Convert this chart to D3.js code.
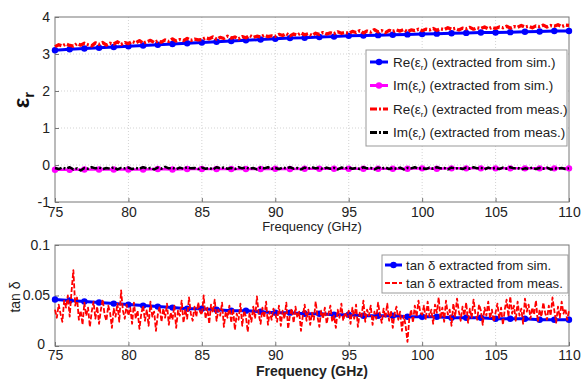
<!DOCTYPE html>
<html><head><meta charset="utf-8">
<script src="https://cdn.jsdelivr.net/npm/d3@7"></script>
<style>body{margin:0;background:#fff}svg{display:block}text{font-family:"Liberation Sans",Arial,sans-serif}</style>
</head><body><svg id="c" width="584" height="379"></svg>
<script>
// ---- data ----
const xTicks = [75,80,85,90,95,100,105,110];
const epsTicks = [-1,0,1,2,3,4];
const tanTicks = [0,0.05,0.1];
const tanTickLabels = ["0","0.05","0.1"];
// simulated, 1 GHz step 75..110
const reEpsSim = [3.10,3.13,3.15,3.17,3.19,3.21,3.23,3.25,3.27,3.29,3.31,3.33,3.35,3.37,3.39,3.41,3.43,3.44,3.46,3.47,3.49,3.50,3.51,3.52,3.53,3.54,3.55,3.56,3.57,3.58,3.58,3.59,3.60,3.61,3.62,3.62];
const imEpsSim = [-0.13,-0.13,-0.12,-0.12,-0.12,-0.12,-0.12,-0.11,-0.12,-0.11,-0.11,-0.11,-0.11,-0.11,-0.11,-0.10,-0.11,-0.10,-0.10,-0.10,-0.10,-0.10,-0.10,-0.10,-0.10,-0.09,-0.10,-0.09,-0.09,-0.09,-0.09,-0.09,-0.09,-0.09,-0.09,-0.09];
// measured, 0.25 GHz step 75..110
const reEpsMeas = [
3.20,3.25,3.22,3.27,3.23,3.21,3.28,3.24,3.29,3.25,3.22,3.30,3.26,3.31,3.24,3.29,3.27,3.33,3.26,3.31,
3.28,3.34,3.30,3.36,3.29,3.33,3.37,3.31,3.35,3.32,3.38,3.34,3.41,3.35,3.39,3.36,3.42,3.37,3.40,3.38,
3.39,3.44,3.41,3.46,3.40,3.45,3.42,3.48,3.43,3.46,3.41,3.47,3.44,3.50,3.45,3.48,3.46,3.51,3.47,3.49,
3.48,3.53,3.50,3.55,3.49,3.54,3.51,3.57,3.52,3.55,3.50,3.56,3.53,3.58,3.54,3.57,3.55,3.60,3.56,3.58,
3.56,3.61,3.58,3.63,3.57,3.62,3.59,3.66,3.60,3.63,3.58,3.64,3.61,3.65,3.62,3.66,3.60,3.65,3.63,3.67,
3.63,3.67,3.65,3.69,3.64,3.68,3.66,3.71,3.67,3.69,3.65,3.70,3.68,3.72,3.67,3.71,3.69,3.73,3.68,3.72,
3.69,3.73,3.71,3.75,3.70,3.74,3.72,3.77,3.73,3.75,3.71,3.76,3.74,3.78,3.73,3.77,3.75,3.79,3.74,3.78,3.77];
const imEpsMeas = [
-0.08,-0.11,-0.07,-0.10,-0.06,-0.12,-0.09,-0.15,-0.08,-0.10,-0.06,-0.09,-0.07,-0.11,-0.08,-0.10,-0.06,-0.12,-0.08,-0.09,
-0.07,-0.11,-0.08,-0.10,-0.06,-0.09,-0.08,-0.12,-0.07,-0.10,-0.05,-0.09,-0.08,-0.11,-0.07,-0.10,-0.06,-0.09,-0.08,-0.11,
-0.07,-0.10,-0.08,-0.12,-0.06,-0.09,-0.07,-0.10,-0.08,-0.11,-0.06,-0.09,-0.07,-0.10,-0.08,-0.12,-0.07,-0.09,-0.06,-0.10,
-0.08,-0.11,-0.07,-0.09,-0.06,-0.10,-0.08,-0.12,-0.07,-0.10,-0.06,-0.09,-0.08,-0.11,-0.07,-0.10,-0.08,-0.12,-0.07,-0.09,
-0.07,-0.10,-0.08,-0.11,-0.06,-0.09,-0.08,-0.12,-0.07,-0.10,-0.06,-0.11,-0.08,-0.10,-0.07,-0.12,-0.08,-0.09,-0.06,-0.10,
-0.08,-0.11,-0.07,-0.10,-0.06,-0.09,-0.08,-0.12,-0.07,-0.10,-0.08,-0.11,-0.07,-0.10,-0.06,-0.09,-0.08,-0.12,-0.07,-0.10,
-0.08,-0.11,-0.07,-0.10,-0.06,-0.09,-0.08,-0.12,-0.09,-0.10,-0.07,-0.11,-0.08,-0.10,-0.07,-0.12,-0.09,-0.10,-0.08,-0.11,-0.09];
// tan delta sim, 1 GHz step
const tanSim = [0.046,0.045,0.044,0.043,0.042,0.041,0.040,0.039,0.038,0.037,0.037,0.036,0.035,0.035,0.034,0.033,0.033,0.032,0.032,0.031,0.031,0.030,0.030,0.030,0.029,0.029,0.029,0.028,0.028,0.028,0.027,0.027,0.027,0.026,0.026,0.026];
// tan delta meas, 0.125 GHz step
const tanMeas = [
0.036,0.028,0.041,0.032,0.024,0.045,0.038,0.050,0.029,0.054,0.075,0.040,0.048,0.026,0.035,0.021,0.043,0.030,0.038,0.019,
0.034,0.044,0.027,0.039,0.022,0.036,0.046,0.031,0.025,0.040,0.033,0.018,0.037,0.029,0.042,0.024,0.055,0.035,0.027,0.041,
0.030,0.038,0.022,0.043,0.027,0.035,0.017,0.032,0.040,0.025,0.036,0.020,0.044,0.029,0.034,0.015,0.031,0.039,0.024,0.037,
0.028,0.042,0.021,0.033,0.026,0.040,0.018,0.035,0.030,0.045,0.023,0.036,0.027,0.048,0.032,0.025,0.039,0.029,0.043,0.034,
0.031,0.050,0.027,0.038,0.022,0.041,0.033,0.046,0.025,0.036,0.030,0.043,0.019,0.034,0.028,0.040,0.023,0.037,0.016,0.032,
0.026,0.042,0.020,0.035,0.029,0.014,0.033,0.024,0.039,0.027,0.049,0.031,0.022,0.038,0.028,0.044,0.021,0.034,0.026,0.037,
0.032,0.024,0.040,0.020,0.035,0.027,0.043,0.017,0.031,0.037,0.023,0.039,0.028,0.034,0.015,0.030,0.041,0.025,0.036,0.021,
0.033,0.026,0.044,0.029,0.019,0.035,0.027,0.038,0.022,0.032,0.040,0.024,0.030,0.018,0.036,0.028,0.042,0.025,0.033,0.029,
0.035,0.022,0.038,0.027,0.041,0.019,0.033,0.029,0.045,0.024,0.036,0.030,0.040,0.021,0.034,0.027,0.043,0.031,0.023,0.037,
0.028,0.042,0.025,0.035,0.018,0.032,0.039,0.026,0.034,0.015,0.030,0.020,0.004,0.027,0.036,0.023,0.040,0.029,0.045,0.033,
0.031,0.040,0.026,0.044,0.029,0.036,0.022,0.041,0.033,0.048,0.027,0.038,0.024,0.045,0.031,0.036,0.020,0.042,0.029,0.047,
0.034,0.025,0.039,0.030,0.043,0.023,0.037,0.028,0.046,0.032,0.026,0.041,0.035,0.021,0.038,0.030,0.044,0.027,0.036,0.024,
0.033,0.042,0.027,0.038,0.021,0.036,0.046,0.029,0.049,0.032,0.040,0.025,0.044,0.030,0.037,0.022,0.047,0.034,0.041,0.027,
0.038,0.031,0.045,0.024,0.036,0.029,0.043,0.033,0.026,0.040,0.030,0.048,0.035,0.023,0.039,0.028,0.044,0.032,0.037,0.026,0.035];
const legendTop = ["Re(ε|r|) (extracted from sim.)","Im(ε|r|) (extracted from sim.)","Re(ε|r|) (extracted from meas.)","Im(ε|r|) (extracted from meas.)"];
const legendBottom = ["tan δ extracted from sim.","tan δ extracted from meas."];

// ---- drawing ----
const svg = d3.select("#c");
const X0=55, X1=569;
const x = d3.scaleLinear().domain([75,110]).range([X0,X1]);
const yE = d3.scaleLinear().domain([-1,4]).range([202,17]);
const yT = d3.scaleLinear().domain([0,0.1]).range([346,245]);
const fx = (arr) => arr.map((v,i)=>[75 + i*35/(arr.length-1), v]);

function frame(y, ticks, labels, tickFont, xPad){
  const g = svg.append("g");
  const [b,t] = y.range();
  xTicks.slice(1,-1).forEach(v=>g.append("line").attr("x1",x(v)).attr("x2",x(v)).attr("y1",t).attr("y2",b)
    .attr("stroke","#c8c8c8").attr("stroke-width",0.8).attr("stroke-dasharray","1,2"));
  ticks.slice(1,-1).forEach(v=>g.append("line").attr("x1",X0).attr("x2",X1).attr("y1",y(v)).attr("y2",y(v))
    .attr("stroke","#c8c8c8").attr("stroke-width",0.8).attr("stroke-dasharray","1,2"));
  const ax = d3.axisBottom(x).tickValues(xTicks).tickSize(-4).tickPadding(xPad).tickFormat(d3.format("d"));
  const ga = g.append("g").attr("transform",`translate(0,${b})`).call(ax);
  const ay = d3.axisLeft(y).tickValues(ticks).tickSize(-4).tickPadding(5).tickFormat((d,i)=>labels[i]);
  const gy = g.append("g").attr("transform",`translate(${X0},0)`).call(ay);
  [ga,gy].forEach(s=>{s.select(".domain").remove(); s.selectAll("line").attr("stroke","#777");
    s.selectAll("text").attr("font-size",tickFont).attr("fill","#222").attr("font-family","Liberation Sans, Arial, sans-serif");});
  g.append("rect").attr("x",X0).attr("y",t).attr("width",X1-X0).attr("height",b-t)
    .attr("fill","none").attr("stroke","#777").attr("stroke-width",1);
  return gy;
}

frame(yE, epsTicks, epsTicks.map(String), 14, 5);
const lineE = d3.line().x(d=>x(d[0])).y(d=>yE(d[1]));
const lineT = d3.line().x(d=>x(d[0])).y(d=>yT(d[1]));

function series(line, yS, data, color, width, dash, markers){
  const pts = fx(data);
  svg.append("path").attr("d",line(pts)).attr("fill","none").attr("stroke",color)
    .attr("stroke-width",width).attr("stroke-dasharray",dash||null).attr("stroke-linejoin","round");
  if(markers) svg.append("g").selectAll("circle").data(pts).join("circle")
    .attr("cx",d=>x(d[0])).attr("cy",d=>yS(d[1])).attr("r",3.2).attr("fill",color);
}
series(lineE, yE, imEpsSim, "#ff00ff", 2.5, null, true);
series(lineE, yE, imEpsMeas, "#000", 2.5, "7,2,2,2", false);
series(lineE, yE, reEpsSim, "#0000ff", 3, null, true);
series(lineE, yE, reEpsMeas, "#ff0000", 3.3, "7,2,2,2", false);

svg.append("text").attr("x",312).attr("y",231).attr("text-anchor","middle").attr("font-size",13).attr("fill","#222").text("Frequency (GHz)");
const yl = svg.append("text").attr("transform","translate(29,100) rotate(-90)").attr("text-anchor","middle")
  .attr("font-size",22).attr("font-weight","bold").attr("fill","#111");
yl.append("tspan").text("ε");
yl.append("tspan").attr("font-size",15).attr("dy",5).text("r");

function richText(sel, s, fs){
  const parts = s.split("|");
  sel.append("tspan").text(parts[0]);
  if(parts.length>1){
    sel.append("tspan").attr("font-size",fs*0.6).attr("dy",3).text(parts[1]);
    sel.append("tspan").attr("dy",-3).text(parts[2]);
  }
}
const L = svg.append("g");
L.append("rect").attr("x",366).attr("y",50).attr("width",201).attr("height",96).attr("fill","#fff").attr("stroke","#999");
const legStyle = [["#0000ff",null,true],["#ff00ff",null,true],["#ff0000","7,2,2,2",false],["#000","7,2,2,2",false]];
legendTop.forEach((s,i)=>{
  const cy = 62 + i*23.5;
  const [c,dash,m] = legStyle[i];
  L.append("line").attr("x1",370).attr("x2",388).attr("y1",cy).attr("y2",cy).attr("stroke",c).attr("stroke-width",3).attr("stroke-dasharray",dash);
  if(m) L.append("circle").attr("cx",379).attr("cy",cy).attr("r",3.2).attr("fill",c);
  const t = L.append("text").attr("x",393).attr("y",cy+4.5).attr("font-size",13.5).attr("fill","#222");
  richText(t,s,13.5);
});

const gyT = frame(yT, tanTicks, tanTickLabels, 14, 4);
// nudge the "0" label so it does not collide with "75"
gyT.selectAll(".tick text").filter(d=>d===0).attr("x",-10).attr("dy","0.2em");
series(lineT, yT, tanSim, "#0000ff", 3, null, true);
series(lineT, yT, tanMeas, "#ff0000", 1.8, "5,2", false);
svg.append("text").attr("x",312).attr("y",376).attr("text-anchor","middle").attr("font-size",14).attr("font-weight","bold").attr("fill","#222").text("Frequency (GHz)");
svg.append("text").attr("transform","translate(20,297) rotate(-90)").attr("text-anchor","middle").attr("font-size",14).attr("fill","#222").text("tan δ");

const L2 = svg.append("g");
L2.append("rect").attr("x",382).attr("y",255).attr("width",186).attr("height",38).attr("fill","#fff").attr("stroke","#999");
legendBottom.forEach((s,i)=>{
  const cy = 265 + i*18;
  if(i===0){
    L2.append("line").attr("x1",385).attr("x2",402).attr("y1",cy).attr("y2",cy).attr("stroke","#0000ff").attr("stroke-width",3);
    L2.append("circle").attr("cx",393.5).attr("cy",cy).attr("r",3.2).attr("fill","#0000ff");
  } else {
    L2.append("line").attr("x1",385).attr("x2",402).attr("y1",cy).attr("y2",cy).attr("stroke","#ff0000").attr("stroke-width",1.8).attr("stroke-dasharray","5,2");
  }
  L2.append("text").attr("x",406).attr("y",cy+4.5).attr("font-size",13.2).attr("fill","#222").text(s);
});
</script></body></html>
